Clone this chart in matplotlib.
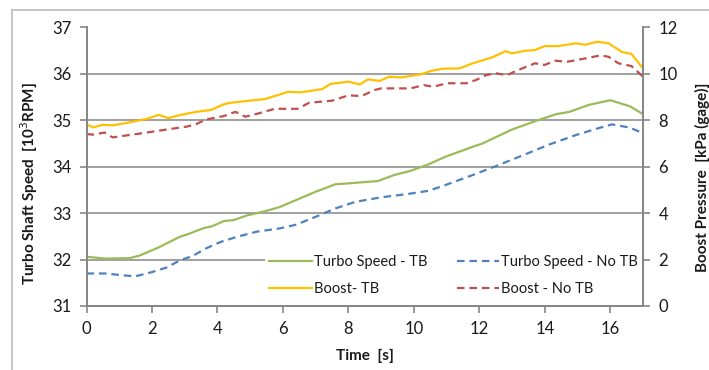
import matplotlib
matplotlib.use('Agg')
import matplotlib.pyplot as plt
from matplotlib.lines import Line2D

plt.rcParams['font.family'] = ['Lato', 'DejaVu Sans']

# Turbo shaft speed [10^3 RPM], left axis
t_speed_tb = [0, 0.6, 1.3, 1.6, 2.2, 2.85, 3.15, 3.55, 3.85, 4.2, 4.5, 4.9, 5.4, 5.9,
              6.4, 7.0, 7.6, 8.0, 8.9, 9.4, 9.9, 10.45, 10.95, 11.85, 12.1, 13.0, 13.75,
              14.35, 14.75, 15.35, 16.0, 16.6, 17.0]
speed_tb = [32.06, 32.02, 32.03, 32.08, 32.26, 32.49, 32.56, 32.67, 32.72, 32.83, 32.85,
            32.95, 33.03, 33.13, 33.28, 33.46, 33.62, 33.64, 33.69, 33.82, 33.91, 34.05,
            34.21, 34.44, 34.50, 34.80, 34.99, 35.13, 35.18, 35.33, 35.43, 35.30, 35.13]

t_speed_notb = [0, 0.6, 1.1, 1.5, 2.0, 2.45, 2.85, 3.25, 3.65, 4.1, 4.6, 5.2, 5.9, 6.4,
                7.0, 7.6, 8.2, 9.0, 9.8, 10.45, 10.95, 11.8, 12.5, 13.35, 14.15, 14.95,
                15.6, 16.05, 16.6, 17.0]
speed_notb = [31.70, 31.70, 31.66, 31.64, 31.73, 31.83, 31.98, 32.08, 32.24, 32.38, 32.49,
              32.60, 32.67, 32.75, 32.92, 33.10, 33.24, 33.34, 33.41, 33.48, 33.60, 33.82,
              34.01, 34.25, 34.48, 34.68, 34.82, 34.91, 34.84, 34.72]

# Boost pressure [kPa gage], right axis
t_boost_tb = [0, 0.2, 0.5, 0.8, 1.25, 1.85, 2.2, 2.5, 2.85, 3.35, 3.8, 4.2, 4.4, 4.85,
              5.45, 5.75, 6.15, 6.55, 7.2, 7.45, 8.0, 8.35, 8.6, 8.95, 9.25, 9.6, 10.2,
              10.55, 10.9, 11.4, 11.8, 12.4, 12.8, 13.0, 13.4, 13.7, 14.0, 14.4, 14.95,
              15.25, 15.6, 15.95, 16.35, 16.65, 17.0]
boost_tb = [7.82, 7.69, 7.80, 7.78, 7.89, 8.06, 8.23, 8.09, 8.22, 8.36, 8.44, 8.69, 8.75,
            8.82, 8.91, 9.04, 9.22, 9.20, 9.34, 9.56, 9.66, 9.54, 9.76, 9.69, 9.87, 9.84,
            9.97, 10.13, 10.22, 10.23, 10.45, 10.71, 10.97, 10.88, 10.99, 11.02, 11.19,
            11.19, 11.31, 11.25, 11.38, 11.31, 10.94, 10.85, 10.23]

t_boost_notb = [0, 0.2, 0.55, 0.8, 1.35, 1.85, 2.45, 3.05, 3.35, 3.65, 4.2, 4.55, 4.85,
                5.25, 5.75, 6.45, 6.8, 7.5, 8.0, 8.4, 8.8, 9.0, 9.9, 10.3, 10.6, 11.0,
                11.6, 11.9, 12.2, 12.5, 12.85, 13.1, 13.7, 14.0, 14.3, 14.7, 15.2, 15.7,
                15.95, 16.25, 16.65, 17.0]
boost_notb = [7.40, 7.38, 7.47, 7.26, 7.37, 7.47, 7.60, 7.72, 7.83, 8.03, 8.18, 8.36, 8.15,
              8.29, 8.49, 8.49, 8.75, 8.84, 9.07, 9.04, 9.30, 9.37, 9.37, 9.51, 9.44, 9.59,
              9.59, 9.73, 9.94, 10.02, 9.94, 10.11, 10.45, 10.38, 10.56, 10.52, 10.65,
              10.79, 10.73, 10.45, 10.33, 9.87]

x_ticks = [0, 2, 4, 6, 8, 10, 12, 14, 16]
left_ticks = [31, 32, 33, 34, 35, 36, 37]
right_ticks = [0, 2, 4, 6, 8, 10, 12]

axis_gray = '#868686'
text_col = '#1a1a1a'

fig = plt.figure(figsize=(7.09, 3.70), dpi=100)
ax = fig.add_axes([86.5 / 709, 1 - 306 / 370, (643 - 86.5) / 709, (306 - 27.3) / 370])
ax2 = ax.twinx()

# outer chart frame
fig.add_artist(Line2D([11.5 / 709, 11.5 / 709], [0, 1 - 9.5 / 370], color='#c0c0c0', lw=1.3))
fig.add_artist(Line2D([11.5 / 709, 1], [1 - 9.5 / 370, 1 - 9.5 / 370], color='#c0c0c0', lw=1.3))

l1, = ax.plot(t_speed_tb, speed_tb, color='#9BBB59', lw=1.6, label='Turbo Speed - TB')
l2, = ax.plot(t_speed_notb, speed_notb, color='#4F81BD', lw=1.6, ls=(0, (3.4, 2.2)),
              label='Turbo Speed - No TB')
l3, = ax2.plot(t_boost_tb, boost_tb, color='#FFC000', lw=1.6, label='Boost- TB')
l4, = ax2.plot(t_boost_notb, boost_notb, color='#C0504D', lw=1.6, ls=(0, (3.4, 2.2)),
               label='Boost - No TB')

ax.set_xlim(0, 17)
ax.set_ylim(31, 37)
ax2.set_ylim(0, 12)
ax.set_xticks(x_ticks)
ax.set_yticks(left_ticks)
ax2.set_yticks(right_ticks)

for y in left_ticks[1:-1]:
    ax.axhline(y, color='#999999', lw=1.3, zorder=0)

for a in (ax, ax2):
    a.spines['top'].set_visible(False)
    for s in ('left', 'right', 'bottom'):
        a.spines[s].set_color(axis_gray)
        a.spines[s].set_linewidth(1.3)
    a.tick_params(direction='out', length=5, width=1.2, color=axis_gray,
                  labelsize=12, labelcolor=text_col, pad=6)

ax.set_ylabel('Turbo Shaft Speed  [10$^3$RPM]', fontsize=11, fontweight='bold', color=text_col)
ax.yaxis.set_label_coords(-0.083, 0.44)
ax2.set_ylabel('Boost Pressure  [kPa (gage)]', fontsize=11, fontweight='bold', color=text_col)
ax2.yaxis.set_label_coords(1.093, 0.46)
ax.set_xlabel('Time  [s]', fontsize=11, fontweight='bold', color=text_col, labelpad=8)

leg = ax2.legend(handles=[l1, l3, l2, l4], ncol=2, loc='lower left',
                 bbox_to_anchor=((265 - 86.5) / 556.5, 0.02), borderaxespad=0,
                 frameon=True, fancybox=False, edgecolor='none', facecolor='white',
                 framealpha=1, fontsize=10.5, handlelength=2.9, handletextpad=0.15,
                 columnspacing=2.0, labelspacing=0.9, borderpad=0.3)
for txt in leg.get_texts():
    txt.set_color(text_col)

fig.savefig('out.png', dpi=100, facecolor='white')
